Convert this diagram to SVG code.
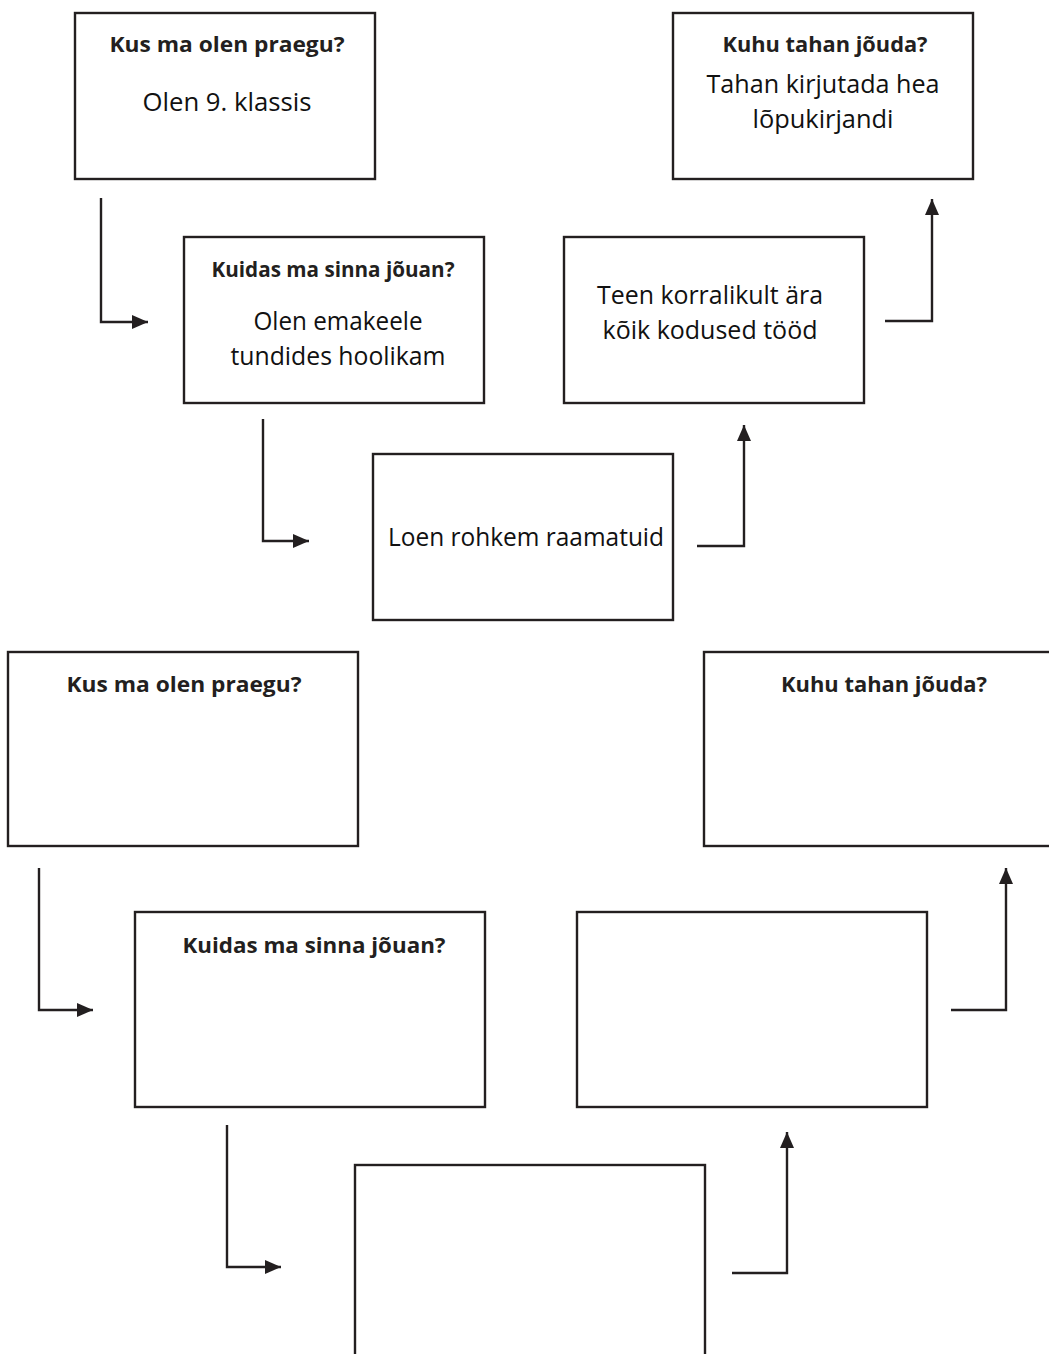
<svg xmlns="http://www.w3.org/2000/svg" width="1049" height="1354" viewBox="0 0 1049 1354">
<style>
.box{fill:#fff;stroke:#231f20;stroke-width:2.4}
.t{font-family:"Open Sans","Liberation Sans",sans-serif;font-weight:bold;font-size:22px;fill:#231f20;text-anchor:middle}
.b{font-family:"Open Sans","Liberation Sans",sans-serif;font-size:26px;fill:#111;text-anchor:middle}
.c{fill:none;stroke:#231f20;stroke-width:2.4;marker-end:url(#ah)}
</style>
<defs>
<marker id="ah" markerUnits="userSpaceOnUse" markerWidth="18" markerHeight="16" refX="16" refY="7" orient="auto">
<path d="M0,0 L16,7 L0,14 z" fill="#231f20"/>
</marker>
</defs>
<rect width="1049" height="1354" fill="#fff"/>
<g id="connectors">
<path class="c" d="M101,198 V322 H148"/>
<path class="c" d="M263,419 V541 H309"/>
<path class="c" d="M697,546 H744 V425"/>
<path class="c" d="M885,321 H932 V199"/>
<path class="c" d="M39,868 V1010 H93"/>
<path class="c" d="M951,1010 H1006 V868"/>
<path class="c" d="M227,1125 V1267 H281"/>
<path class="c" d="M732,1273 H787 V1132"/>
</g>
<g id="n1">
<rect class="box" x="75" y="13" width="300" height="166"/>
<text class="t" x="227" y="52" textLength="235" lengthAdjust="spacingAndGlyphs">Kus ma olen praegu?</text>
<text class="b" x="227" y="111" textLength="169" lengthAdjust="spacingAndGlyphs">Olen 9. klassis</text>
</g>
<g id="n2">
<rect class="box" x="184" y="237" width="300" height="166"/>
<text class="t" x="333" y="277" textLength="243" lengthAdjust="spacingAndGlyphs">Kuidas ma sinna jõuan?</text>
<text class="b" x="338" y="330" textLength="169" lengthAdjust="spacingAndGlyphs">Olen emakeele</text>
<text class="b" x="338" y="365" textLength="215" lengthAdjust="spacingAndGlyphs">tundides hoolikam</text>
</g>
<g id="n3">
<rect class="box" x="373" y="454" width="300" height="166"/>
<text class="b" x="526" y="546" textLength="276" lengthAdjust="spacingAndGlyphs">Loen rohkem raamatuid</text>
</g>
<g id="n4">
<rect class="box" x="564" y="237" width="300" height="166"/>
<text class="b" x="710" y="304" textLength="226" lengthAdjust="spacingAndGlyphs">Teen korralikult ära</text>
<text class="b" x="710" y="339" textLength="215" lengthAdjust="spacingAndGlyphs">kõik kodused tööd</text>
</g>
<g id="n5">
<rect class="box" x="673" y="13" width="300" height="166"/>
<text class="t" x="825" y="52" textLength="205" lengthAdjust="spacingAndGlyphs">Kuhu tahan jõuda?</text>
<text class="b" x="823" y="93" textLength="233" lengthAdjust="spacingAndGlyphs">Tahan kirjutada hea</text>
<text class="b" x="823" y="128" textLength="141" lengthAdjust="spacingAndGlyphs">lõpukirjandi</text>
</g>
<g id="n6">
<rect class="box" x="8" y="652" width="350" height="194"/>
<text class="t" x="184" y="692" textLength="235" lengthAdjust="spacingAndGlyphs">Kus ma olen praegu?</text>
</g>
<g id="n7">
<rect class="box" x="135" y="912" width="350" height="195"/>
<text class="t" x="314" y="953" textLength="263" lengthAdjust="spacingAndGlyphs">Kuidas ma sinna jõuan?</text>
</g>
<g id="n8">
<rect class="box" x="577" y="912" width="350" height="195"/>
</g>
<g id="n9">
<rect class="box" x="704" y="652" width="400" height="194"/>
<text class="t" x="884" y="692" textLength="206" lengthAdjust="spacingAndGlyphs">Kuhu tahan jõuda?</text>
</g>
<g id="n10">
<rect class="box" x="355" y="1165" width="350" height="250"/>
</g>
</svg>
